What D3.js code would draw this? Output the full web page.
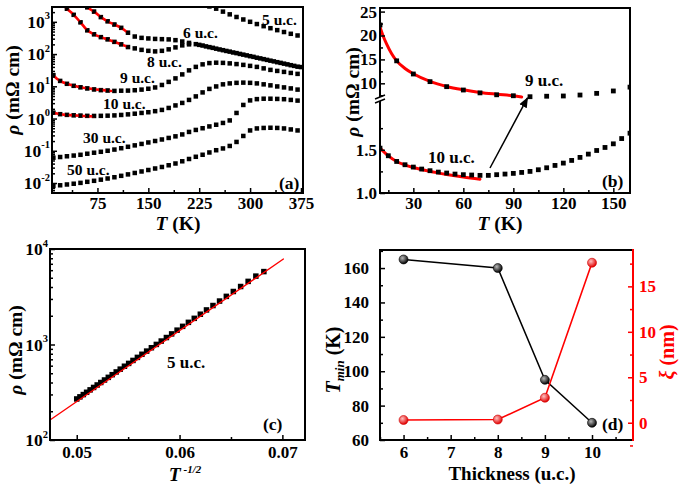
<!DOCTYPE html>
<html>
<head>
<meta charset="utf-8">
<script src="https://cdn.jsdelivr.net/npm/d3@7/dist/d3.min.js"></script>
<style>
html,body{margin:0;padding:0;background:#fff;}
svg{display:block;}
</style>
</head>
<body>
<svg id="chart" width="685" height="484"></svg>
<script>
// ================= DATA =================
// ---- Panel (a): rho (mOhm cm) vs T (K) ----
const tempA = [10,20,30,40,50,60,70,80,90,100,110,120,130,140,150,160,170,180,190,200,210,220,230,240,250,260,270,280,290,300,310,320,330,340,350,360,370];

const t5a   = [240,250,260,270,280,290,300,310,320,330,340,350,360,370];
const rho5a = [3000,2560,2075,1706,1413,1183,1002,853,733,634,552,483,425,377];

const t6   = [60,70,80,90,100,110,120,130,140,150,160,170,180,190,200,210,220,230,240,250,260,270,280,290,300,310,320,330,340,350,360,370];
const rho6 = [2820,2075,1400,1037,825,652,460,350,318,305,295,290,285,270,245,222,203,184,164,147,132,119,107,96,86,77,69.5,62.4,56,50.4,45.2,40.6];

const t8   = [30,40,50,60,70,80,90,100,110,120,130,140,150,160,170,180,190,200,210,225,235,245,255,265,275,285,295,305,315,325,335,345,355,365,375];
const rho8 = [2550,1650,964,545,410,335,286,239,200,165,150,135,126,121,126,140,161,186,200,193,173,156,139,125,112,101,91,82,73.5,66,59.3,53.3,47.9,43,39.5];

const t9   = tempA;
const rho9 = [22.2,14.7,11.95,10.35,9.3,8.6,8.0,7.6,7.4,7.2,7.3,7.35,7.55,7.9,8.4,9.2,11.0,13.7,17.6,23.4,31.2,40,47.9,52.5,54,53.3,51.4,48.9,46.2,43,40,36,32.3,30,28,26,24.3];

const t10   = [10,15,20,25,30,35,40,45,50,55,60,65,70,75,80,85,90,95,100,105,110,115,120,125,130,135,140,145,150,155,160,170,180,190,200,210,220,230,240,250,260,270,280,290,300,310,320,330,340,350,360,370];
const rho10 = [1.519,1.431,1.365,1.327,1.300,1.277,1.258,1.242,1.231,1.219,1.212,1.208,1.204,1.204,1.212,1.219,1.227,1.238,1.250,1.269,1.292,1.319,1.346,1.377,1.412,1.450,1.492,1.527,1.569,1.63,1.692,1.85,2.13,2.55,3.05,3.78,4.86,6.46,8.3,9.9,11.5,12.3,12.8,13.0,12.8,12.3,11.5,10.7,9.9,9.24,8.6,7.9];

const rho30 = [0.061,0.064,0.0675,0.071,0.075,0.081,0.087,0.093,0.100,0.109,0.120,0.133,0.147,0.163,0.181,0.201,0.224,0.250,0.28,0.321,0.384,0.443,0.50,0.569,0.642,0.73,0.873,1.49,2.64,3.65,4.0,4.12,4.12,4.06,3.98,3.78,3.6];
const rho50 = [0.0081,0.0085,0.009,0.0095,0.0101,0.0109,0.0117,0.0127,0.0138,0.0151,0.0167,0.0185,0.0205,0.0228,0.0253,0.0282,0.0314,0.0355,0.0403,0.0472,0.0556,0.0651,0.0752,0.0886,0.104,0.118,0.141,0.188,0.288,0.427,0.493,0.511,0.518,0.511,0.493,0.459,0.427];

// red fits
const fit6T  = [58,60,70,80,90,100,110,120];
const fit6   = [3000,2820,2075,1400,1037,825,652,460];
const fit8T  = [26,30,40,50,60,70,80,90,100,110,120];
const fit8   = [3100,2550,1650,964,545,410,335,286,239,200,165];
const fit9T  = [10,12,14,17,20,25,30,40,50,60,70,80,90,95];
const fit9   = [21.8,19.8,18.2,16.2,14.7,13.1,12.0,10.4,9.35,8.65,8.1,7.72,7.38,7.15];
const fit10T = [10,15,20,25,30,40,50,60,70];
const fit10  = [1.52,1.43,1.365,1.325,1.295,1.25,1.215,1.185,1.16];

// ---- Panel (c): rho vs T^-1/2 for 5 u.c. ----
const invSqrtT5 = [0.05,0.05031,0.05064,0.05096,0.0513,0.05164,0.05199,0.05234,0.0527,0.05307,0.05345,0.05384,0.05423,0.05464,0.05505,0.05547,0.0559,0.05634,0.0568,0.05726,0.05774,0.05822,0.05872,0.05923,0.05976,0.0603,0.06086,0.06143,0.06202,0.06262,0.06325,0.06389,0.06455,0.06523,0.06594,0.06667,0.06742,0.0682];
const rho5c = [269,283,299,316,335,355,377,400,425,453,483,516,552,592,634,681,733,790,853,925,1002,1087,1183,1291,1413,1549,1706,1879,2075,2301,2559,2851,3192,3589,4047,4581,5200,5800];
const fitCx   = [0.0474, 0.0701];
const fitCrho = [162, 7850];

// ---- Panel (d) ----
const thickness = [6, 8, 9, 10];
const tMin = [165, 160, 95, 70];
const xi   = [0.3, 0.35, 2.75, 17.6];

// ---- tick values ----
const ticksAx = [75,150,225,300,375];
const minorAx = [37.5,112.5,187.5,262.5,337.5];
const ticksAy = [1e-2,1e-1,1e0,1e1,1e2,1e3];
const ticksBx = [30,60,90,120,150];
const minorBx = [15,45,75,105,135];
const ticksByUp = [10,15,20,25];
const minorByUp = [7.5,12.5,17.5,22.5];
const ticksByLo = [1.0,1.5];
const minorByLo = [1.25,1.75];
const ticksCx = [0.05,0.06,0.07];
const minorCx = [0.055,0.065];
const ticksCy = [1e2,1e3,1e4];
const ticksDx = [6,7,8,9,10];
const minorDx = [5.5,6.5,7.5,8.5,9.5,10.5];
const ticksDyL = [60,80,100,120,140,160];
const minorDyL = [70,90,110,130,150,170];
const ticksDyR = [0,5,10,15];
const minorDyR = [-2.5,2.5,7.5,12.5,17.5];

// ================= DRAWING =================
const FONT = '"Liberation Serif","Times New Roman",Times,serif';
const RED = "#ff0000";
const TICKFS = 17;
const svg = d3.select("#chart");
const defs = svg.append("defs");
let clipN = 0;
function addClip(x0,y0,x1,y1){
  const id = "clip"+(clipN++);
  defs.append("clipPath").attr("id",id).append("rect")
    .attr("x",x0).attr("y",y0).attr("width",x1-x0).attr("height",y1-y0);
  return "url(#"+id+")";
}
function txt(x,y,s,fs,anchor){
  return svg.append("text").attr("x",x).attr("y",y).attr("font-family",FONT)
    .attr("font-weight","bold").attr("font-size",fs).attr("text-anchor",anchor||"start").text(s);
}
function squares(g, xs, ys, sx, sy, size){
  g.selectAll(null).data(d3.zip(xs,ys)).join("rect")
    .attr("x",d=>sx(d[0])-size/2).attr("y",d=>sy(d[1])-size/2)
    .attr("width",size).attr("height",size).attr("fill","#000");
}
function fitLine(g, xs, ys, sx, sy, w, color, curve){
  g.append("path").datum(d3.zip(xs,ys))
    .attr("d", d3.line().x(d=>sx(d[0])).y(d=>sy(d[1])).curve(curve||d3.curveMonotoneX))
    .attr("fill","none").attr("stroke",color).attr("stroke-width",w).attr("stroke-linecap","round");
}
function styleAxis(g, color){
  g.select(".domain").remove();
  g.attr("font-family",FONT).attr("font-size",TICKFS).attr("font-weight","bold").attr("color",color||"#000");
  g.selectAll(".tick line").attr("stroke-width",1.5);
}
function bottomAxis(sx, y, major, minor, fmt, pad){
  const g = svg.append("g").attr("transform",`translate(0,${y})`)
    .call(d3.axisBottom(sx).tickValues(major).tickSize(-5).tickSizeOuter(0).tickPadding(pad).tickFormat(fmt));
  styleAxis(g);
  const m = svg.append("g").attr("transform",`translate(0,${y})`)
    .call(d3.axisBottom(sx).tickValues(minor).tickSize(-3).tickSizeOuter(0).tickFormat(""));
  styleAxis(m);
}
function leftAxis(sy, x, major, minor, fmt, pad, color){
  const g = svg.append("g").attr("transform",`translate(${x},0)`)
    .call(d3.axisLeft(sy).tickValues(major).tickSize(-5).tickSizeOuter(0).tickPadding(pad).tickFormat(fmt));
  styleAxis(g, color);
  if(minor){
    const m = svg.append("g").attr("transform",`translate(${x},0)`)
      .call(d3.axisLeft(sy).tickValues(minor).tickSize(-3).tickSizeOuter(0).tickFormat(""));
    styleAxis(m, color);
  }
}
function rightAxis(sy, x, major, minor, fmt, pad, color){
  const g = svg.append("g").attr("transform",`translate(${x},0)`)
    .call(d3.axisRight(sy).tickValues(major).tickSize(-5).tickSizeOuter(0).tickPadding(pad).tickFormat(fmt));
  styleAxis(g, color);
  const m = svg.append("g").attr("transform",`translate(${x},0)`)
    .call(d3.axisRight(sy).tickValues(minor).tickSize(-3).tickSizeOuter(0).tickFormat(""));
  styleAxis(m, color);
}
function logLabels(sy, vals, xRight, fs){
  vals.forEach(v=>{
    const e = Math.round(Math.log10(v));
    const t = svg.append("text").attr("x",xRight).attr("y",sy(v)+fs*0.36)
      .attr("text-anchor","end").attr("font-family",FONT).attr("font-weight","bold").attr("font-size",fs);
    t.append("tspan").text("10");
    t.append("tspan").attr("dy",-fs*0.5).attr("font-size",fs*0.6).text(e<0 ? "-"+(-e) : String(e));
  });
}
function logMinor(sy, lo, hi){
  const out=[];
  for(let k=lo;k<=hi;k++) for(let m=2;m<=9;m++){ out.push(m*Math.pow(10,k)); }
  return out.filter(v=>v>=sy.domain()[0] && v<=sy.domain()[1]);
}
function box(x0,y0,x1,y1){
  svg.append("rect").attr("x",x0).attr("y",y0).attr("width",x1-x0).attr("height",y1-y0)
    .attr("fill","none").attr("stroke","#000").attr("stroke-width",2);
}
function yTitle(cx,cy,parts,fs,color){
  const t = svg.append("text").attr("transform",`translate(${cx},${cy}) rotate(-90)`)
    .attr("y",fs*0.35).attr("text-anchor","middle").attr("font-family",FONT).attr("font-weight","bold")
    .attr("font-size",fs).attr("fill",color||"#000");
  parts.forEach(p=>{
    const s=t.append("tspan").text(p.t);
    if(p.i) s.attr("font-style","italic");
    if(p.fs) s.attr("font-size",p.fs);
    if(p.dy) s.attr("dy",p.dy);
  });
  return t;
}
function xTitle(cx,y,parts,fs){
  const t = svg.append("text").attr("x",cx).attr("y",y).attr("text-anchor","middle")
    .attr("font-family",FONT).attr("font-weight","bold").attr("font-size",fs);
  parts.forEach(p=>{
    const s=t.append("tspan").text(p.t);
    if(p.i) s.attr("font-style","italic");
    if(p.fs) s.attr("font-size",p.fs);
    if(p.dy) s.attr("dy",p.dy);
  });
}
const rhoTitle = [{t:"\u03C1",i:true},{t:" (m\u03A9 cm)"}];

// ---------- Panel (a) ----------
{
  const X0=52,X1=303,Y0=7,Y1=193;
  const sx = d3.scaleLinear().domain([8,378]).range([X0,X1]);
  const sy = d3.scaleLog().domain([Math.pow(10,-2.31),Math.pow(10,3.46)]).range([Y1,Y0]);
  const g = svg.append("g").attr("clip-path",addClip(X0,Y0,X1,Y1));
  const sq = 4.5;
  squares(g, t5a, rho5a, sx, sy, sq);
  squares(g, t6, rho6, sx, sy, sq);
  squares(g, t8, rho8, sx, sy, sq);
  squares(g, t9, rho9, sx, sy, sq);
  const t10a = t10.filter(t=>t%10===0), r10a = rho10.filter((r,i)=>t10[i]%10===0);
  squares(g, t10a, r10a, sx, sy, sq);
  squares(g, tempA, rho30, sx, sy, sq);
  squares(g, tempA, rho50, sx, sy, sq);
  fitLine(g, fit6T, fit6, sx, sy, 2.6, RED);
  fitLine(g, fit8T, fit8, sx, sy, 2.6, RED);
  fitLine(g, fit9T, fit9, sx, sy, 2.6, RED);
  fitLine(g, fit10T, fit10, sx, sy, 2.6, RED);
  // squares visible on top of the fits
  squares(g, t6.filter(t=>t<=120), rho6.filter((r,i)=>t6[i]<=120), sx, sy, 3.6);
  squares(g, t8.filter(t=>t<=120), rho8.filter((r,i)=>t8[i]<=120), sx, sy, 3.6);
  squares(g, t9.filter(t=>t<=90), rho9.filter((r,i)=>t9[i]<=90), sx, sy, 3.6);
  squares(g, t10a.filter(t=>t<=70), r10a.filter((r,i)=>t10a[i]<=70), sx, sy, 3.6);

  bottomAxis(sx, Y1, ticksAx, minorAx, d3.format("d"), 4);
  leftAxis(sy, X0, ticksAy, logMinor(sy,-3,3), "", 3);
  logLabels(sy, ticksAy, X0-2, 17.5);
  box(X0,Y0,X1,Y1);
  yTitle(12, 90, rhoTitle, 19.5);
  xTitle(178, 229.5, [{t:"T",i:true},{t:" (K)"}], 19.5);
  txt(262,25,"5 u.c.",15.5);
  txt(183,38,"6 u.c.",15.5);
  txt(147,67,"8 u.c.",15.5);
  txt(120,83,"9 u.c.",15.5);
  txt(103,109,"10 u.c.",15.5);
  txt(83,143,"30 u.c.",15.5);
  txt(67,175,"50 u.c.",15.5);
  txt(279,189,"(a)",17.5);
}

// ---------- Panel (b) ----------
{
  const X0=380,X1=630,Y0=8,Y1=193, BRK_UP=99, BRK_LO=102;
  const sx = d3.scaleLinear().domain([10,160]).range([X0,X1]);
  const syU = d3.scaleLinear().domain([6.72,25.75]).range([BRK_UP,Y0]);
  const syL = d3.scaleLinear().domain([1.0,2.053]).range([Y1,BRK_LO]);
  const gU = svg.append("g").attr("clip-path",addClip(X0,Y0,X1,BRK_UP+3));
  const gL = svg.append("g").attr("clip-path",addClip(X0,BRK_LO-1,X1,Y1));
  const t9b = t9.filter(t=>t<=160), r9b = rho9.filter((r,i)=>t9[i]<=160);
  const t10b = t10.filter(t=>t<=160), r10b = rho10.filter((r,i)=>t10[i]<=160);
  fitLine(gU, fit9T, fit9, sx, syU, 3, RED);
  fitLine(gL, fit10T, fit10, sx, syL, 3, RED);
  squares(gU, t9b, r9b, sx, syU, 4.8);
  squares(gL, t10b, r10b, sx, syL, 4.8);

  bottomAxis(sx, Y1, ticksBx, minorBx, d3.format("d"), 4);
  leftAxis(syU, X0, ticksByUp, minorByUp, d3.format("d"), 3);
  leftAxis(syL, X0, ticksByLo, minorByLo, d3.format(".1f"), 3);
  box(X0,Y0,X1,Y1);
  // axis break
  svg.append("rect").attr("x",X0-4).attr("y",97).attr("width",8).attr("height",4).attr("fill","#fff");
  svg.append("line").attr("x1",X0-5).attr("y1",99).attr("x2",X0+5).attr("y2",95).attr("stroke","#000").attr("stroke-width",1.5);
  svg.append("line").attr("x1",X0-5).attr("y1",103).attr("x2",X0+5).attr("y2",99).attr("stroke","#000").attr("stroke-width",1.5);
  // arrow
  defs.append("marker").attr("id","arr").attr("viewBox","0 0 10 10").attr("refX",9).attr("refY",5)
    .attr("markerWidth",7).attr("markerHeight",7).attr("orient","auto")
    .append("path").attr("d","M0,1 L10,5 L0,9 z").attr("fill","#000");
  svg.append("line").attr("x1",sx(76)).attr("y1",168).attr("x2",sx(98.5)).attr("y2",syU(6.95))
    .attr("stroke","#000").attr("stroke-width",1.5).attr("marker-end","url(#arr)");
  yTitle(352, 92, rhoTitle, 19.5);
  xTitle(500, 229.5, [{t:"T",i:true},{t:" (K)"}], 19.5);
  txt(525,86,"9 u.c.",17);
  txt(428,163,"10 u.c.",17);
  txt(602,187,"(b)",17.5);
}

// ---------- Panel (c) ----------
{
  const X0=50,X1=305,Y0=249,Y1=440;
  const sx = d3.scaleLinear().domain([0.0474,0.0722]).range([X0,X1]);
  const sy = d3.scaleLog().domain([100,10000]).range([Y1,Y0]);
  const g = svg.append("g").attr("clip-path",addClip(X0,Y0,X1,Y1));
  squares(g, invSqrtT5, rho5c, sx, sy, 5.5);
  fitLine(g, fitCx, fitCrho, sx, sy, 1.4, RED, d3.curveLinear);
  bottomAxis(sx, Y1, ticksCx, minorCx, d3.format(".2f"), 6);
  leftAxis(sy, X0, ticksCy, logMinor(sy,2,3), "", 3);
  logLabels(sy, ticksCy, X0-2, 17.5);
  box(X0,Y0,X1,Y1);
  yTitle(15, 350, rhoTitle, 19.5);
  xTitle(185, 480.5, [{t:"T",i:true},{t:" -1/2",i:true,fs:11,dy:-8}], 19.5);
  txt(167,368,"5 u.c.",17);
  txt(263,430,"(c)",17.5);
}

// ---------- Panel (d) ----------
{
  const X0=380,X1=633,Y0=250,Y1=440;
  const sx = d3.scaleLinear().domain([5.5,10.87]).range([X0,X1]);
  const syL = d3.scaleLinear().domain([60,170.5]).range([Y1,Y0]);
  const syR = d3.scaleLinear().domain([-1.9,19.0]).range([Y1,Y0]);
  const gB = defs.append("radialGradient").attr("id","gBlack").attr("cx","38%").attr("cy","35%").attr("r","65%");
  gB.append("stop").attr("offset","0").attr("stop-color","#b8b8b8");
  gB.append("stop").attr("offset","1").attr("stop-color","#000");
  const gR = defs.append("radialGradient").attr("id","gRed").attr("cx","38%").attr("cy","35%").attr("r","65%");
  gR.append("stop").attr("offset","0").attr("stop-color","#ffc0c0");
  gR.append("stop").attr("offset","1").attr("stop-color","#e00000");

  fitLine(svg, thickness, tMin, sx, syL, 1.5, "#000", d3.curveLinear);
  fitLine(svg, thickness, xi, sx, syR, 1.6, RED, d3.curveLinear);
  svg.selectAll(null).data(d3.zip(thickness,tMin)).join("circle")
    .attr("cx",d=>sx(d[0])).attr("cy",d=>syL(d[1])).attr("r",4.5).attr("fill","url(#gBlack)").attr("stroke","#000").attr("stroke-width",0.6);
  svg.selectAll(null).data(d3.zip(thickness,xi)).join("circle")
    .attr("cx",d=>sx(d[0])).attr("cy",d=>syR(d[1])).attr("r",4.5).attr("fill","url(#gRed)").attr("stroke","#d00000").attr("stroke-width",0.6);

  bottomAxis(sx, Y1, ticksDx, minorDx, d3.format("d"), 6);
  leftAxis(syL, X0, ticksDyL, minorDyL, d3.format("d"), 11);
  rightAxis(syR, X1, ticksDyR, minorDyR, d3.format("d"), 6, RED);
  svg.append("path").attr("d",`M${X1},${Y0} H${X0} V${Y1} H${X1}`).attr("fill","none").attr("stroke","#000").attr("stroke-width",2);
  svg.append("line").attr("x1",X1).attr("y1",Y0-1).attr("x2",X1).attr("y2",Y1+1).attr("stroke",RED).attr("stroke-width",2);
  yTitle(333, 360, [{t:"T",i:true},{t:"min",i:true,fs:13,dy:4},{t:" (K)",dy:-4}], 20);
  yTitle(667, 352, [{t:"\u03BE",i:true},{t:" (nm)"}], 20, RED);
  xTitle(512, 479.5, [{t:"Thickness (u.c.)"}], 19);
  txt(602,430,"(d)",17.5);
}
</script>
</body>
</html>
